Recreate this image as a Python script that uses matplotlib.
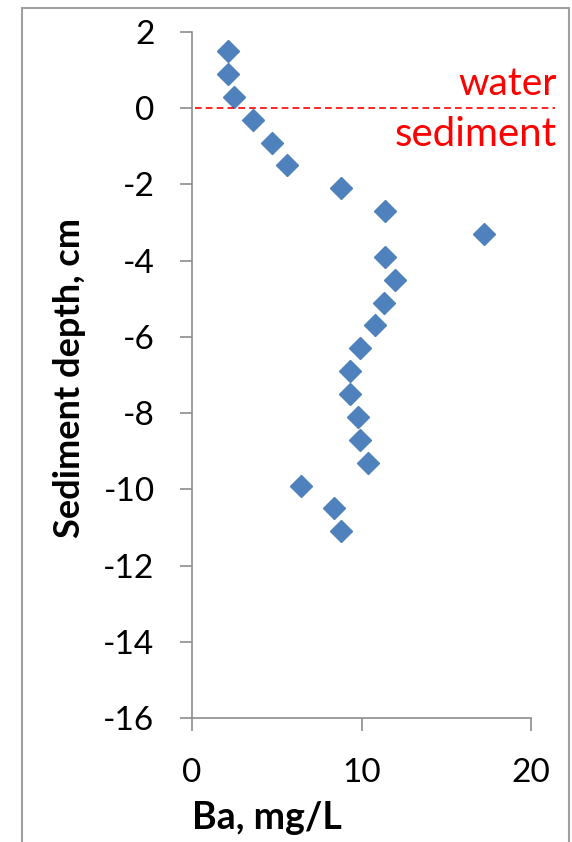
import matplotlib.pyplot as plt
import matplotlib.patches as patches

# data
ba = [2.1, 2.1, 2.5, 3.6, 4.7, 5.6, 8.8, 11.4, 17.2, 11.4, 12.0,
      11.3, 10.8, 9.9, 9.3, 9.3, 9.8, 9.9, 10.4, 6.4, 8.4, 8.8]
depth = [1.5, 0.9, 0.3, -0.3, -0.9, -1.5, -2.1, -2.7, -3.3, -3.9, -4.5,
         -5.1, -5.7, -6.3, -6.9, -7.5, -8.1, -8.7, -9.3, -9.9, -10.5, -11.1]
x_ticks = [0, 10, 20]
y_ticks = [2, 0, -2, -4, -6, -8, -10, -12, -14, -16]

plt.rcParams['font.family'] = ['Lato', 'DejaVu Sans']
plt.rcParams['axes.unicode_minus'] = False

fig = plt.figure(figsize=(5.72, 8.42), dpi=100)
ax = fig.add_axes([0.3357, 0.1473, 0.5927, 0.8147])

ax.plot(ba, depth, linestyle='none', marker='D', markersize=11,
        color='#4F81BD', markeredgecolor='#4F81BD', clip_on=False)

ax.set_xlim(0, 20)
ax.set_ylim(-16, 2)
ax.set_xticks(x_ticks)
ax.set_yticks(y_ticks)

for s in ['top', 'right']:
    ax.spines[s].set_visible(False)
for s in ['left', 'bottom']:
    ax.spines[s].set_color('#8c8c8c')
    ax.spines[s].set_linewidth(1.2)
ax.tick_params(axis='both', direction='out', length=9, width=1.2,
               color='#8c8c8c', labelsize=24)
ax.tick_params(axis='y', pad=18)
ax.tick_params(axis='x', pad=20)

ax.set_xlabel('Ba, mg/L', fontsize=27, fontweight='bold')
ax.set_ylabel('Sediment depth, cm', fontsize=26, fontweight='bold')
ax.xaxis.set_label_coords(0.22, -0.146)
ax.xaxis.label.set_va('center')
ax.yaxis.set_label_coords(-0.36, 0.495)
ax.yaxis.label.set_va('center')

# water / sediment boundary
ax.plot([0.01, 1.07], [0, 0], transform=ax.get_yaxis_transform(),
        color='red', linestyle='--', linewidth=1.2, dashes=(4, 2.5),
        clip_on=False)
ax.text(1.075, 0.15, 'water', transform=ax.get_yaxis_transform(),
        color='red', fontsize=28, ha='right', va='bottom')
ax.text(1.075, -0.2, 'sediment', transform=ax.get_yaxis_transform(),
        color='red', fontsize=29, ha='right', va='top')

# outer frame
frame = patches.Rectangle((22 / 572, -0.01), (569 - 22) / 572, 1 - 8 / 842 + 0.01,
                          transform=fig.transFigure, fill=False,
                          edgecolor='#a0a0a0', linewidth=1.5)
fig.patches.append(frame)

fig.savefig('out.png', dpi=100)
